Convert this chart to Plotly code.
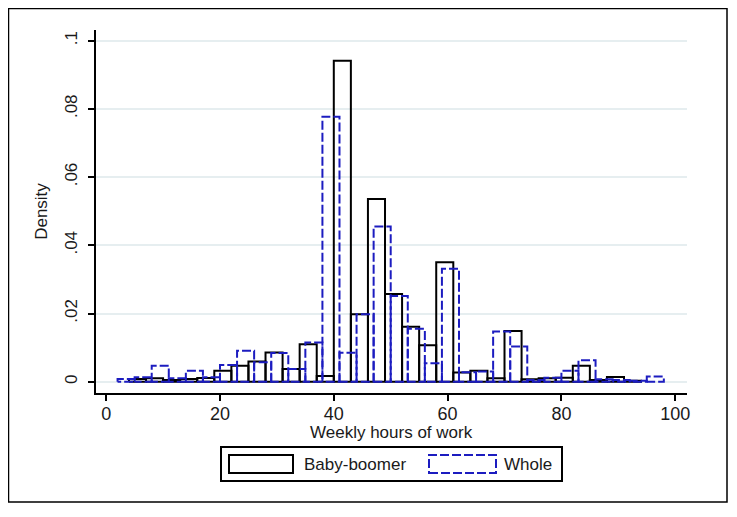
import plotly.graph_objects as go

# ---- data: histogram densities (bin width 3 hours) ----
bin_width = 3
boomer_start = 4
boomer_density = [0.0008, 0.0010, 0.0005, 0.0008, 0.0011, 0.0032, 0.0047, 0.0059,
                  0.0086, 0.0037, 0.0110, 0.0017, 0.0941, 0.0198, 0.0536, 0.0257,
                  0.0161, 0.0107, 0.0350, 0.0027, 0.0032, 0.0010, 0.0149, 0.0007,
                  0.0010, 0.0012, 0.0047, 0.0005, 0.0014, 0.0003]
whole_start = 2
whole_density = [0.0008, 0.0013, 0.0047, 0.0010, 0.0032, 0.0013, 0.0049, 0.0091,
                 0.0057, 0.0084, 0.0037, 0.0115, 0.0777, 0.0085, 0.0198, 0.0455,
                 0.0251, 0.0155, 0.0054, 0.0331, 0.0028, 0.0030, 0.0147, 0.0103,
                 0.0005, 0.0012, 0.0032, 0.0063, 0.0007, 0.0005, 0.0003, 0.0015]

x_ticks = [0, 20, 40, 60, 80, 100]
y_ticks = [0, 0.02, 0.04, 0.06, 0.08, 0.1]
y_tick_labels = ["0", ".02", ".04", ".06", ".08", ".1"]
series_names = ["Baby-boomer", "Whole"]
x_title = "Weekly hours of work"
y_title = "Density"

BLUE = "#1c1cc0"
FONT = "Liberation Sans, Arial, sans-serif"
TXT = "#1a1a1a"


def outline(start, dens):
    xs, ys = [], []
    for i, h in enumerate(dens):
        x0 = start + i * bin_width
        x1 = x0 + bin_width
        xs += [x0, x0, x1, x1, x0, None]
        ys += [0, h, h, 0, 0, None]
    return xs, ys


fig = go.Figure()
bx, by = outline(boomer_start, boomer_density)
fig.add_trace(go.Scatter(x=bx, y=by, mode="lines", name=series_names[0],
                         line=dict(color="black", width=2), showlegend=False))
wx, wy = outline(whole_start, whole_density)
fig.add_trace(go.Scatter(x=wx, y=wy, mode="lines", name=series_names[1],
                         line=dict(color=BLUE, width=2, dash="9px,3px"), showlegend=False))

OFF = 8  # page body margin
W, H = 737 - 2 * OFF, 517 - 2 * OFF
# plot-area edges in screen pixels
SL, SR, ST, SB = 96, 687, 30, 393
L, R, T, B = SL - OFF, SR - OFF, ST - OFF, SB - OFF


def px(x):
    return (x - OFF - L) / (R - L)


def py(y):
    return (B - (y - OFF)) / (B - T)


shapes = [
    dict(type="rect", xref="paper", yref="paper", x0=px(8.5), x1=px(727), y0=py(502), y1=py(8.5),
         line=dict(color="black", width=1.5), layer="below"),
    dict(type="rect", xref="paper", yref="paper", x0=px(221), x1=px(562), y0=py(481), y1=py(447),
         line=dict(color="black", width=2)),
    dict(type="rect", xref="paper", yref="paper", x0=px(229), x1=px(293), y0=py(473), y1=py(455),
         line=dict(color="black", width=2)),
    dict(type="rect", xref="paper", yref="paper", x0=px(429), x1=px(496), y0=py(473), y1=py(455),
         line=dict(color=BLUE, width=2, dash="9px,3px")),
]
annotations = [
    dict(text=series_names[0], xref="paper", yref="paper", x=px(302), y=py(464),
         xanchor="left", yanchor="middle", showarrow=False,
         font=dict(family=FONT, size=17, color=TXT)),
    dict(text=series_names[1], xref="paper", yref="paper", x=px(502), y=py(464),
         xanchor="left", yanchor="middle", showarrow=False,
         font=dict(family=FONT, size=17, color=TXT)),
    dict(text=x_title, xref="paper", yref="paper", x=px(391), y=py(432),
         xanchor="center", yanchor="middle", showarrow=False,
         font=dict(family=FONT, size=17, color=TXT)),
]

fig.update_layout(
    width=W, height=H,
    margin=dict(l=L, r=W - R, t=T, b=H - B),
    paper_bgcolor="white", plot_bgcolor="white",
    font=dict(family=FONT, color=TXT),
    shapes=shapes, annotations=annotations,
    xaxis=dict(range=[-1.79, 102.07], tickvals=x_ticks, showgrid=False, zeroline=False,
               showline=True, linecolor="black", linewidth=2,
               ticks="outside", ticklen=6, tickwidth=2, tickcolor="black",
               ticklabelstandoff=-3,
               tickfont=dict(size=18, family=FONT, color=TXT)),
    yaxis=dict(range=[-0.0033, 0.1031], tickvals=y_ticks, ticktext=y_tick_labels,
               tickangle=-90, showgrid=True, gridcolor="#e6eef0", gridwidth=1.5,
               zeroline=False, showline=True, linecolor="black", linewidth=2,
               ticks="outside", ticklen=6, tickwidth=2, tickcolor="black",
               ticklabelstandoff=4,
               tickfont=dict(size=17, family=FONT, color=TXT),
               title=dict(text=y_title, standoff=10,
                          font=dict(size=17, family=FONT, color=TXT))),
)

fig.write_html("out.html")
